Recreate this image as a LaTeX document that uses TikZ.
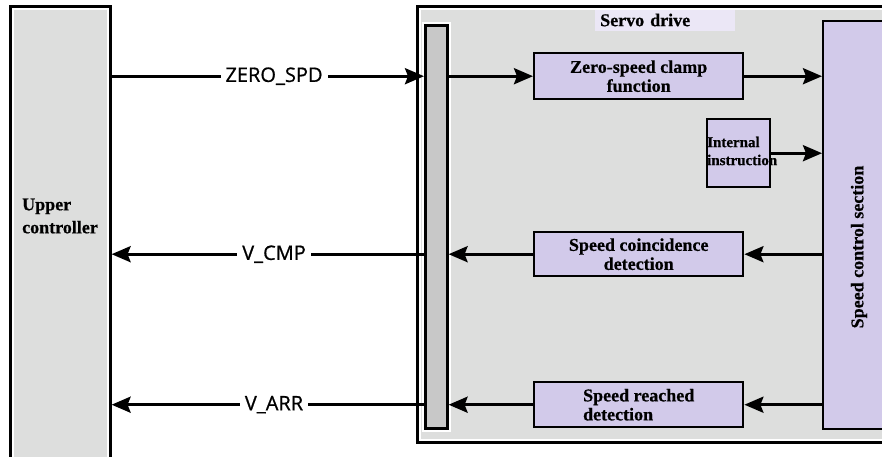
\documentclass[tikz,border=0pt]{standalone}
\usepackage{fontspec}
\setmainfont{Liberation Serif}[BoldFeatures={FakeBold=0.6}]
\newfontfamily\sigfont{Open Sans}[FakeBold=0.8]
\usetikzlibrary{arrows.meta}

\definecolor{panelgray}{RGB}{221,222,221}
\definecolor{busgray}{RGB}{200,200,200}
\definecolor{lavender}{RGB}{210,202,234}

\begin{document}
\begin{tikzpicture}[
    x=1pt, y=-1pt,
    >={Stealth[length=19pt, width=16pt, inset=3pt]},
    sig/.style={->, line width=3pt},
    panel/.style={draw, line width=2.6pt, preaction={fill=panelgray},
      preaction={draw=white, line width=6.5pt}, anchor=north west, inner sep=0pt},
    bar/.style={panel, preaction={fill=busgray}},
    block/.style={draw, line width=2.4pt, fill=lavender, anchor=north west, align=center,
      inner sep=0pt, font=\bfseries\fontsize{18}{19}\selectfont},
    title/.style={font=\bfseries\fontsize{18}{23}\selectfont, inner sep=0pt},
    siglbl/.style={fill=white, inner xsep=5pt, inner ysep=1pt,
      font=\sigfont\fontsize{20}{20}\selectfont}
  ]
  \useasboundingbox (0,0) rectangle (882,456);

  % Blocchi principali
  \node[panel, minimum width=100pt, minimum height=480pt] (upper) at (9,5) {};
  \node[panel, minimum width=480pt, minimum height=436pt] (servo) at (416,5) {};
  \node[bar, minimum width=22pt, minimum height=403pt] (bus) at (424,24) {};
  \node[block, minimum width=80pt, minimum height=408pt] (speed) at (822,20) {};

  % Titoli
  \node[title, align=left, anchor=west] (uppertxt) at (22,216) {Upper\\controller};
  \node[title, anchor=west, fill=lavender!45, text width=130pt, align=left,
    inner xsep=5pt, minimum height=21pt] (servotxt) at (595,20) {Servo drive};
  \node[title, rotate=90] (speedtxt) at (859,247) {Speed control section};

  % Blocchi interni
  \node[block, minimum width=209pt, minimum height=46pt] (clamp) at (533,52) {Zero-speed clamp\\function};
  \node[block, minimum width=63pt, minimum height=68pt] (internal) at (706,118) {};
  \node[title, font=\bfseries\fontsize{15}{18}\selectfont, align=left, anchor=west]
    (internaltxt) at (707,151) {Internal\\instruction};
  \node[block, minimum width=209pt, minimum height=44pt] (coinc) at (533,231) {Speed coincidence\\detection};
  \node[block, minimum width=209pt, minimum height=45pt, align=left] (reached) at (533,381) {Speed reached\\detection};

  % Segnali
  \draw[sig] (upper.east |- clamp.west) -- node[siglbl, pos=0.52] {ZERO\_SPD} (bus.west |- clamp.west);
  \draw[sig] (bus.east |- clamp.west) -- (clamp.west);
  \draw[sig] (clamp.east) -- (speed.west |- clamp.east);
  \draw[sig] (internal.east) -- (speed.west |- internal.east);

  \draw[sig] (speed.west |- coinc.east) -- (coinc.east);
  \draw[sig] (coinc.west) -- (bus.east |- coinc.west);
  \draw[sig] (bus.west |- coinc.west) -- node[siglbl, pos=0.48] {V\_CMP} (upper.east |- coinc.west);

  \draw[sig] (speed.west |- reached.east) -- (reached.east);
  \draw[sig] (reached.west) -- (bus.east |- reached.west);
  \draw[sig] (bus.west |- reached.west) -- node[siglbl, pos=0.48] {V\_ARR} (upper.east |- reached.west);

\end{tikzpicture}
\end{document}
